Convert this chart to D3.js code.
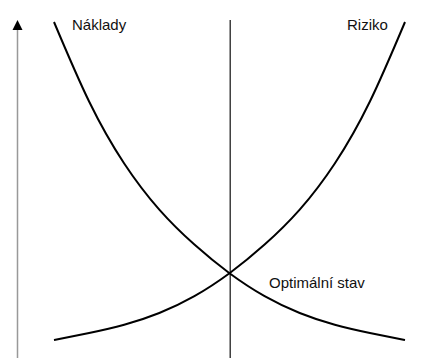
<!DOCTYPE html>
<html>
<head>
<meta charset="utf-8">
<script src="https://cdn.jsdelivr.net/npm/d3@7"></script>
<style>
html,body{margin:0;padding:0;background:#fff;}
svg{display:block;}
text{font-family:"Liberation Sans",Arial,sans-serif;font-size:15px;fill:#111;}
</style>
</head>
<body>
<svg id="chart" width="435" height="358"></svg>
<script>
// x position (0..100) and level (0..100)
const xs      = [0, 10, 20, 30, 40, 50, 60, 70, 80, 90, 100];
const naklady = [100, 75, 55.5, 41, 30, 21, 13.8, 8.5, 4.8, 2.2, 0];
const riziko  = [0, 2.2, 4.8, 8.5, 13.8, 21, 30, 41, 55.5, 75, 100];
const optimum = 50.2;
const labels  = ["Náklady", "Riziko", "Optimální stav"];

const svg = d3.select("#chart");
const x = d3.scaleLinear().domain([0, 100]).range([54, 405]);
const y = d3.scaleLinear().domain([0, 100]).range([340, 22]);

// vertical axis
svg.append("line")
  .attr("x1",17.5).attr("x2",17.5).attr("y1",358).attr("y2",28)
  .attr("stroke","#999").attr("stroke-width",1.5);
svg.append("path")
  .attr("d","M17.5,20 L22.5,30 L12.5,30 Z").attr("fill","#000");

// optimum line
svg.append("line")
  .attr("x1",x(optimum)).attr("x2",x(optimum)).attr("y1",20).attr("y2",358)
  .attr("stroke","#222").attr("stroke-width",1.3);

const curve = d3.line().curve(d3.curveNatural).x((d,i)=>x(xs[i])).y(d=>y(d));

svg.append("path").attr("d",curve(naklady)).attr("fill","none").attr("stroke","#000").attr("stroke-width",2);
svg.append("path").attr("d",curve(riziko)).attr("fill","none").attr("stroke","#000").attr("stroke-width",2);

svg.append("text").attr("x",72).attr("y",30).text(labels[0]);
svg.append("text").attr("x",347).attr("y",30).text(labels[1]);
svg.append("text").attr("x",269).attr("y",288).text(labels[2]);
</script>
</body>
</html>
